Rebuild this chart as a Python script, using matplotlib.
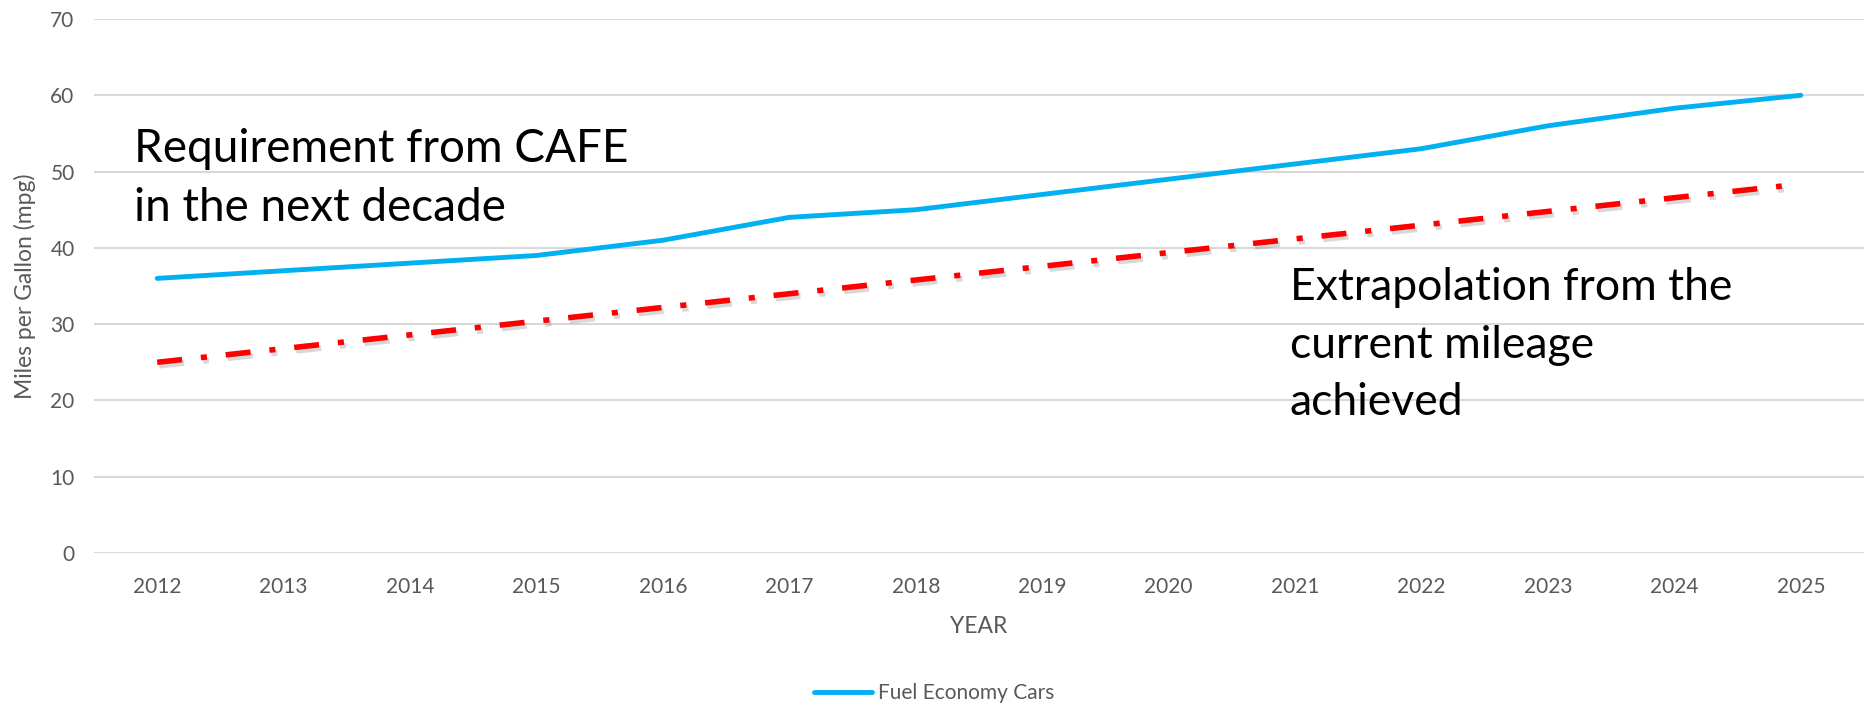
import matplotlib
matplotlib.use("Agg")
import matplotlib.pyplot as plt
import matplotlib.patheffects as pe
from matplotlib.lines import Line2D

plt.rcParams['font.family'] = ['Lato', 'DejaVu Sans']

# Fuel economy requirement (CAFE) by model year
years = [2012, 2013, 2014, 2015, 2016, 2017, 2018, 2019, 2020, 2021, 2022, 2023, 2024, 2025]
cafe_mpg = [36, 37, 38, 39, 41, 44, 45, 47, 49, 51, 53, 56, 58.3, 60]

# Straight-line extrapolation of the currently achieved mileage
extrap_years = [2012, 2024.85]
extrap_mpg = [25, 48.1]

y_ticks = [0, 10, 20, 30, 40, 50, 60, 70]

W, H = 1865, 709
fig = plt.figure(figsize=(W / 100, H / 100), dpi=100)
ax = fig.add_axes([94 / W, 1 - 553 / H, (1864 - 94) / W, (553 - 19) / H])

blue = '#00B0F0'
grey_txt = '#595959'

ax.plot(years, cafe_mpg, color=blue, lw=3.5, solid_capstyle='round',
        solid_joinstyle='round', zorder=3)

ax.plot(extrap_years, extrap_mpg, color='#FF0000', lw=4.0,
        dashes=(4.5, 3.4, 1.1, 3.4), dash_capstyle='butt', zorder=4,
        path_effects=[pe.SimpleLineShadow(offset=(1.5, -2.5), shadow_color='#7f7f7f', alpha=0.3),
                      pe.Normal()])

ax.set_xlim(2011.5, 2025.5)
ax.set_ylim(0, 70)
ax.set_xticks(years)
ax.set_xticklabels([str(y) for y in years])
ax.set_yticks(y_ticks)
ax.yaxis.grid(True, color='#D9D9D9', lw=1.5)
ax.set_axisbelow(True)
for s in ax.spines.values():
    s.set_visible(False)
ax.tick_params(axis='both', length=0, labelsize=15, labelcolor=grey_txt)
ax.tick_params(axis='x', pad=17)
ax.tick_params(axis='y', pad=14)

ax.set_xlabel('YEAR', fontsize=16.5, color=grey_txt, labelpad=14)
ax.set_ylabel('Miles per Gallon (mpg)', fontsize=16.5, color=grey_txt, labelpad=10)

fig.text(134 / W, 1 - 178.5 / H, 'Requirement from CAFE\nin the next decade',
         fontsize=33, color='black', ha='left', va='center', linespacing=1.5)
fig.text(1290 / W, 1 - 345 / H, 'Extrapolation from the\ncurrent mileage\nachieved',
         fontsize=32, color='black', ha='left', va='center', linespacing=1.5)

handle = Line2D([], [], color=blue, lw=3.5, solid_capstyle='round')
fig.legend([handle], ['Fuel Economy Cars'], loc='center',
           bbox_to_anchor=(934 / W, 1 - 693 / H), frameon=False,
           fontsize=15, labelcolor=grey_txt, handlelength=2.8,
           handletextpad=0.3)

fig.savefig('out.png', dpi=100)
